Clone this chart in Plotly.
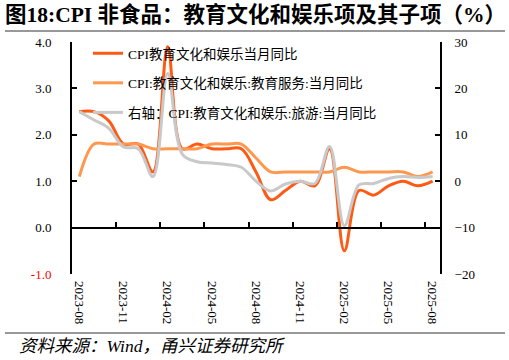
import plotly.graph_objects as go

months = ['2023-08', '2023-09', '2023-10', '2023-11', '2023-12', '2024-01', '2024-02',
          '2024-03', '2024-04', '2024-05', '2024-06', '2024-07', '2024-08', '2024-09',
          '2024-10', '2024-11', '2024-12', '2025-01', '2025-02', '2025-03', '2025-04',
          '2025-05', '2025-06', '2025-07', '2025-08']

edu_culture = [2.5, 2.5, 2.3, 1.8, 1.8, 1.2, 3.9, 1.7, 1.8, 1.7, 1.7, 1.7, 1.2, 0.6,
               0.8, 1.0, 0.9, 1.7, -0.5, 0.8, 0.7, 0.9, 1.0, 0.9, 1.0]
edu_service = [1.1, 1.8, 1.8, 1.8, 1.8, 1.7, 1.7, 1.7, 1.7, 1.8, 1.8, 1.8, 1.5, 1.2,
               1.2, 1.2, 1.2, 1.2, 1.3, 1.2, 1.2, 1.2, 1.2, 1.1, 1.2]
tourism = [15.0, 13.2, 11.4, 7.4, 7.0, 1.0, 23.2, 5.8, 4.2, 3.9, 3.6, 3.0, 0.0, -2.1,
           -0.6, 0.0, -0.5, 7.5, -9.6, -0.8, -0.5, 0.6, 1.0, 0.8, 1.0]

names = ['CPI教育文化和娱乐当月同比',
         'CPI:教育文化和娱乐:教育服务:当月同比',
         '右轴：CPI:教育文化和娱乐:旅游:当月同比']

left_ticks = [-1, 0, 1, 2, 3, 4]
right_ticks = [-20, -10, 0, 10, 20, 30]
label_step = 3

FONT = "Liberation Serif, 'Times New Roman', 'Noto Sans CJK SC', serif"

W, H = 509, 360
L, R, T, B = 72, 69, 42, 86
pw, ph = W - L - R, H - T - B

def px_x(p):
    return (p - L) / pw

def px_y(p):
    return (H - B - p) / ph

idx = list(range(len(months)))

fig = go.Figure()
fig.add_trace(go.Scatter(x=idx, y=edu_culture, name=names[0], mode='lines',
                         line=dict(color='#FF5A14', width=3, shape='spline', smoothing=1),
                         legendgroup='a', yaxis='y'))
fig.add_trace(go.Scatter(x=idx, y=edu_service, name=names[1], mode='lines',
                         line=dict(color='#FF984F', width=3, shape='spline', smoothing=1),
                         legendgroup='b', yaxis='y'))
fig.add_trace(go.Scatter(x=idx, y=tourism, name=names[2], mode='lines',
                         line=dict(color='#C9C9C9', width=3, shape='spline', smoothing=1),
                         legendgroup='c', yaxis='y2'))
# helper trace so the zero-line category axis is drawn
fig.add_trace(go.Scatter(x=[None], y=[None], xaxis='x2', yaxis='y', showlegend=False,
                         hoverinfo='skip'))

ylo, yhi = left_ticks[0], left_ticks[-1]
zero_pos = (0 - ylo) / (yhi - ylo)

left_text = [('<span style="color:red">%.1f</span>' % v) if v < 0 else '%.1f' % v
             for v in left_ticks]

fig.update_layout(
    width=W, height=H,
    margin=dict(l=L, r=R, t=T, b=B, autoexpand=False),
    paper_bgcolor='white', plot_bgcolor='white',
    font=dict(family=FONT, size=13, color='black'),
    showlegend=True,
    legend=dict(x=px_x(88), y=px_y(38), xanchor='left', yanchor='top',
                bgcolor='rgba(0,0,0,0)', font=dict(size=13.5, family=FONT),
                tracegroupgap=9, traceorder='grouped'),
    xaxis=dict(range=[-0.5, len(months) - 0.5], tickvals=idx[::label_step],
               ticktext=months[::label_step], tickangle=90, ticks='', showline=False,
               showgrid=False, zeroline=False, ticklabelstandoff=6,
               tickfont=dict(size=13, family=FONT)),
    xaxis2=dict(overlaying='x', anchor='free', position=zero_pos,
                range=[-0.5, len(months) - 0.5],
                tickvals=[i + 0.5 for i in idx[2:-1:label_step]],
                ticks='inside', ticklen=5, tickwidth=2, tickcolor='black',
                showticklabels=False, showline=True, linecolor='black', linewidth=2,
                showgrid=False, zeroline=False),
    yaxis=dict(range=[ylo, yhi], tickvals=left_ticks, ticktext=left_text,
               ticks='inside', ticklen=5, tickwidth=2, tickcolor='black',
               showline=True, linecolor='black', linewidth=2, showgrid=False,
               zeroline=False, ticklabelstandoff=16, tickfont=dict(size=13, family=FONT)),
    yaxis2=dict(range=[right_ticks[0], right_ticks[-1]], tickvals=right_ticks,
                overlaying='y', side='right', ticks='inside', ticklen=5, tickwidth=2,
                tickcolor='black', showline=True, linecolor='black', linewidth=2,
                showgrid=False, zeroline=False, ticklabelstandoff=10,
                tickfont=dict(size=13, family=FONT)),
)

fig.add_annotation(text='<b>图18:CPI 非食品：教育文化和娱乐项及其子项（%）</b>',
                   xref='paper', yref='paper', x=px_x(3), y=px_y(15),
                   xanchor='left', yanchor='middle', showarrow=False,
                   font=dict(size=21.5, family=FONT, color='black'))
fig.add_annotation(text='<i>资料来源：Wind，甬兴证券研究所</i>',
                   xref='paper', yref='paper', x=px_x(17), y=px_y(346),
                   xanchor='left', yanchor='middle', showarrow=False,
                   font=dict(size=17.5, family=FONT, color='black'))

for ypx in (31, 333):
    fig.add_shape(type='line', xref='paper', yref='paper',
                  x0=px_x(5), x1=px_x(505), y0=px_y(ypx), y1=px_y(ypx),
                  line=dict(color='#333333', width=1))

fig.write_html('out.html', config={'displayModeBar': False},
               post_script="document.body.style.margin='0';document.body.style.padding='0';")
